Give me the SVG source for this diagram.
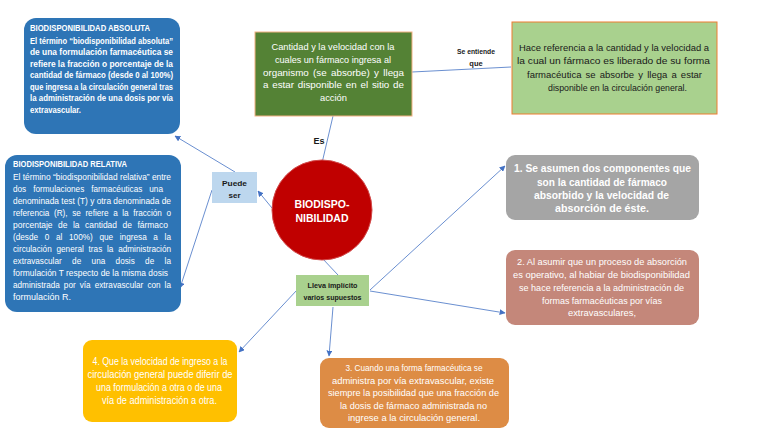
<svg xmlns="http://www.w3.org/2000/svg" width="768" height="433" viewBox="0 0 768 433">
<defs>
<style>
.t{font-family:"Liberation Sans",Arial,sans-serif;fill:#fff}
.b{font-weight:bold}
.dk{font-family:"Liberation Sans",Arial,sans-serif;fill:#1a1a1a;font-weight:bold}
.c{text-anchor:middle}
.cn{fill:none;stroke:#4472c4;stroke-width:0.8}
</style>
<marker id="ah" viewBox="0 0 10 10" refX="9" refY="5" markerWidth="6" markerHeight="6" orient="auto" markerUnits="userSpaceOnUse">
<path d="M0,0 L10,5 L0,10 z" fill="#4472c4"/>
</marker>
</defs>
<rect width="768" height="433" fill="#fff"/>

<g id="connectors">
<line class="cn" x1="333" y1="116" x2="322" y2="163"/>
<line class="cn" x1="412" y1="72" x2="511" y2="67"/>
<line class="cn" x1="272" y1="208" x2="258" y2="191" marker-end="url(#ah)"/>
<line class="cn" x1="235" y1="172" x2="175" y2="136" marker-end="url(#ah)"/>
<line class="cn" x1="212" y1="190" x2="180" y2="288" marker-end="url(#ah)"/>
<line class="cn" x1="322" y1="258" x2="338" y2="275"/>
<line class="cn" x1="370" y1="290" x2="505" y2="166" marker-end="url(#ah)"/>
<line class="cn" x1="370" y1="291" x2="505" y2="313" marker-end="url(#ah)"/>
<line class="cn" x1="333" y1="307" x2="329" y2="356" marker-end="url(#ah)"/>
<line class="cn" x1="297" y1="290" x2="239" y2="352" marker-end="url(#ah)"/>
<text class="dk" x="319" y="144" font-size="9" font-weight="normal" text-anchor="middle">Es</text>
<text class="dk c" x="476" y="54" font-size="7.5" textLength="38" lengthAdjust="spacingAndGlyphs">Se entiende</text>
<text class="dk c" x="476" y="66" font-size="7.5">que</text>
</g>

<g id="absoluta">
<rect x="24" y="18" width="156" height="116" rx="12" fill="#2e75b6"/>
<text class="t b" x="30" y="31" font-size="8.5" textLength="120" lengthAdjust="spacingAndGlyphs">BIODISPONIBILIDAD ABSOLUTA</text>
<g font-size="8.2" font-weight="bold">
<text class="t" x="30" y="43.5" textLength="143" lengthAdjust="spacingAndGlyphs">El término “biodisponibilidad absoluta”</text>
<text class="t" x="30" y="55" textLength="143" lengthAdjust="spacingAndGlyphs">de una formulación farmacéutica se</text>
<text class="t" x="30" y="66.5" textLength="143" lengthAdjust="spacingAndGlyphs">refiere la fracción o porcentaje de la</text>
<text class="t" x="30" y="78" textLength="143" lengthAdjust="spacingAndGlyphs">cantidad de fármaco (desde 0 al 100%)</text>
<text class="t" x="30" y="89.5" textLength="143" lengthAdjust="spacingAndGlyphs">que ingresa a la circulación general tras</text>
<text class="t" x="30" y="101" textLength="143" lengthAdjust="spacingAndGlyphs">la administración de una dosis por vía</text>
<text class="t" x="30" y="112.5" textLength="51" lengthAdjust="spacingAndGlyphs">extravascular.</text>
</g>
</g>

<g id="relativa">
<rect x="5" y="155" width="176" height="157" rx="12" fill="#2e75b6"/>
<text class="t b" x="13" y="167" font-size="8.5" textLength="114" lengthAdjust="spacingAndGlyphs">BIODISPONIBILIDAD RELATIVA</text>
<g font-size="8.2">
<text class="t" x="13" y="179.5" textLength="158" lengthAdjust="spacingAndGlyphs">El término “biodisponibilidad relativa” entre</text>
<text class="t" x="13" y="191.5" word-spacing="4.7" textLength="150" lengthAdjust="spacingAndGlyphs">dos formulaciones farmacéuticas una</text>
<text class="t" x="13" y="203.5" textLength="158" lengthAdjust="spacingAndGlyphs">denominada test (T) y otra denominada de</text>
<text class="t" x="13" y="215.5" word-spacing="2.3" textLength="158" lengthAdjust="spacingAndGlyphs">referencia (R), se refiere a la fracción o</text>
<text class="t" x="13" y="227.5" word-spacing="3" textLength="155" lengthAdjust="spacingAndGlyphs">porcentaje  de la cantidad de fármaco</text>
<text class="t" x="13" y="239.5" word-spacing="4.4" textLength="158" lengthAdjust="spacingAndGlyphs">(desde 0 al 100%) que ingresa a la</text>
<text class="t" x="13" y="251.5" word-spacing="2.5" textLength="158" lengthAdjust="spacingAndGlyphs">circulación general tras la administración</text>
<text class="t" x="13" y="263.5" word-spacing="8.1" textLength="158" lengthAdjust="spacingAndGlyphs">extravascular de una dosis de la</text>
<text class="t" x="13" y="275.5" textLength="155" lengthAdjust="spacingAndGlyphs">formulación T respecto de la misma dosis</text>
<text class="t" x="13" y="287.5" word-spacing="1.8" textLength="158" lengthAdjust="spacingAndGlyphs">administrada por vía extravascular con la</text>
<text class="t" x="13" y="299.5" textLength="58" lengthAdjust="spacingAndGlyphs">formulación R.</text>
</g>
</g>

<g id="definicion">
<rect x="255" y="32" width="157" height="84" fill="#548235" stroke="#f4b183" stroke-width="1"/>
<g font-size="9.8">
<text class="t c" x="333" y="50" textLength="123" lengthAdjust="spacingAndGlyphs">Cantidad y la velocidad con la</text>
<text class="t c" x="333" y="63" textLength="116" lengthAdjust="spacingAndGlyphs">cuales un fármaco ingresa al</text>
<text class="t c" x="333.5" y="75.5" word-spacing="1.6" textLength="141" lengthAdjust="spacingAndGlyphs">organismo (se absorbe) y llega</text>
<text class="t c" x="333.5" y="88" word-spacing="1.1" textLength="141" lengthAdjust="spacingAndGlyphs">a estar disponible en el sitio de</text>
<text class="t c" x="333.5" y="101" textLength="27" lengthAdjust="spacingAndGlyphs">acción</text>
</g>
</g>

<g id="entiende">
<rect x="512" y="22" width="205" height="92" fill="#a9d18e" stroke="#ed7d31" stroke-width="1"/>
<g font-size="9.5" fill="#1a1a1a" font-family="Liberation Sans, Arial, sans-serif">
<text class="c" x="614" y="51" textLength="190" lengthAdjust="spacingAndGlyphs">Hace referencia a la cantidad y la velocidad a</text>
<text class="c" x="613.5" y="64" textLength="193" lengthAdjust="spacingAndGlyphs">la cual un fármaco  es liberado de su forma</text>
<text class="c" x="614.5" y="77.5" word-spacing="1.5" textLength="175" lengthAdjust="spacingAndGlyphs">farmacéutica  se  absorbe  y  llega  a  estar</text>
<text class="c" x="617.5" y="91" textLength="139" lengthAdjust="spacingAndGlyphs">disponible  en  la circulación general.</text>
</g>
</g>

<g id="biodisponibilidad">
<circle cx="322" cy="210" r="50" fill="#c00000" stroke="#d24a4a" stroke-width="1"/>
<text class="t b c" x="322" y="208" font-size="10.5">BIODISPO-</text>
<text class="t b c" x="322" y="222" font-size="10.5">NIBILIDAD</text>
</g>

<g id="puede">
<rect x="212" y="172" width="45" height="31" fill="#bdd7ee"/>
<text class="dk c" x="234.5" y="186" font-size="8" textLength="25" lengthAdjust="spacingAndGlyphs">Puede</text>
<text class="dk c" x="234.5" y="198" font-size="8">ser</text>
</g>

<g id="lleva">
<rect x="296" y="275" width="73" height="31" fill="#a9d18e"/>
<text class="dk c" x="332.5" y="288" font-size="7.6" textLength="50" lengthAdjust="spacingAndGlyphs">Lleva implícito</text>
<text class="dk c" x="332.5" y="300" font-size="7.6" textLength="58" lengthAdjust="spacingAndGlyphs">varios supuestos</text>
</g>

<g id="supuesto1">
<rect x="506" y="155" width="193" height="65" rx="9" fill="#a5a5a5"/>
<g font-size="10.5" font-weight="bold">
<text class="t c" x="602.5" y="172" textLength="177" lengthAdjust="spacingAndGlyphs">1. Se asumen dos componentes que</text>
<text class="t c" x="602" y="186" textLength="130" lengthAdjust="spacingAndGlyphs">son la cantidad de fármaco</text>
<text class="t c" x="601.5" y="199" textLength="135" lengthAdjust="spacingAndGlyphs">absorbido y la velocidad de</text>
<text class="t c" x="602" y="212" textLength="94" lengthAdjust="spacingAndGlyphs">absorción de éste.</text>
</g>
</g>

<g id="supuesto2">
<rect x="506" y="250" width="193" height="75" rx="9" fill="#c4877a"/>
<g font-size="9.5">
<text class="t c" x="602" y="264.5" textLength="170" lengthAdjust="spacingAndGlyphs">2. Al asumir que un proceso de absorción</text>
<text class="t c" x="601.5" y="277.5" textLength="177" lengthAdjust="spacingAndGlyphs">es operativo, al habiar  de biodisponibilidad</text>
<text class="t c" x="601.5" y="290.5" textLength="165" lengthAdjust="spacingAndGlyphs">se hace referencia a la administración de</text>
<text class="t c" x="602" y="303.5" textLength="120" lengthAdjust="spacingAndGlyphs">formas farmacéuticas por vías</text>
<text class="t c" x="602" y="316" textLength="68" lengthAdjust="spacingAndGlyphs">extravasculares,</text>
</g>
</g>

<g id="supuesto3">
<rect x="320" y="358" width="189" height="70" rx="9" fill="#dd8c45"/>
<g font-size="9.5">
<text class="t c" x="414" y="371" textLength="137" lengthAdjust="spacingAndGlyphs">3. Cuando una forma farmacéutica se</text>
<text class="t c" x="413" y="383.5" textLength="162" lengthAdjust="spacingAndGlyphs">administra por vía extravascular, existe</text>
<text class="t c" x="413.5" y="396" textLength="171" lengthAdjust="spacingAndGlyphs">siempre la posibilidad que una fracción de</text>
<text class="t c" x="413.5" y="408.5" textLength="147" lengthAdjust="spacingAndGlyphs">la dosis de fármaco administrada no</text>
<text class="t c" x="414" y="421" textLength="132" lengthAdjust="spacingAndGlyphs">ingrese a la  circulación general.</text>
</g>
</g>

<g id="supuesto4">
<rect x="83" y="340" width="154" height="82" rx="9" fill="#ffc000"/>
<g font-size="10">
<text class="t c" x="160" y="365" textLength="135" lengthAdjust="spacingAndGlyphs">4. Que la velocidad de ingreso a la</text>
<text class="t c" x="160" y="378" textLength="145" lengthAdjust="spacingAndGlyphs">circulación general puede diferir de</text>
<text class="t c" x="159" y="391" textLength="126" lengthAdjust="spacingAndGlyphs">una formulación a otra o de una</text>
<text class="t c" x="159.5" y="404" textLength="115" lengthAdjust="spacingAndGlyphs">vía de administración a otra.</text>
</g>
</g>
</svg>
